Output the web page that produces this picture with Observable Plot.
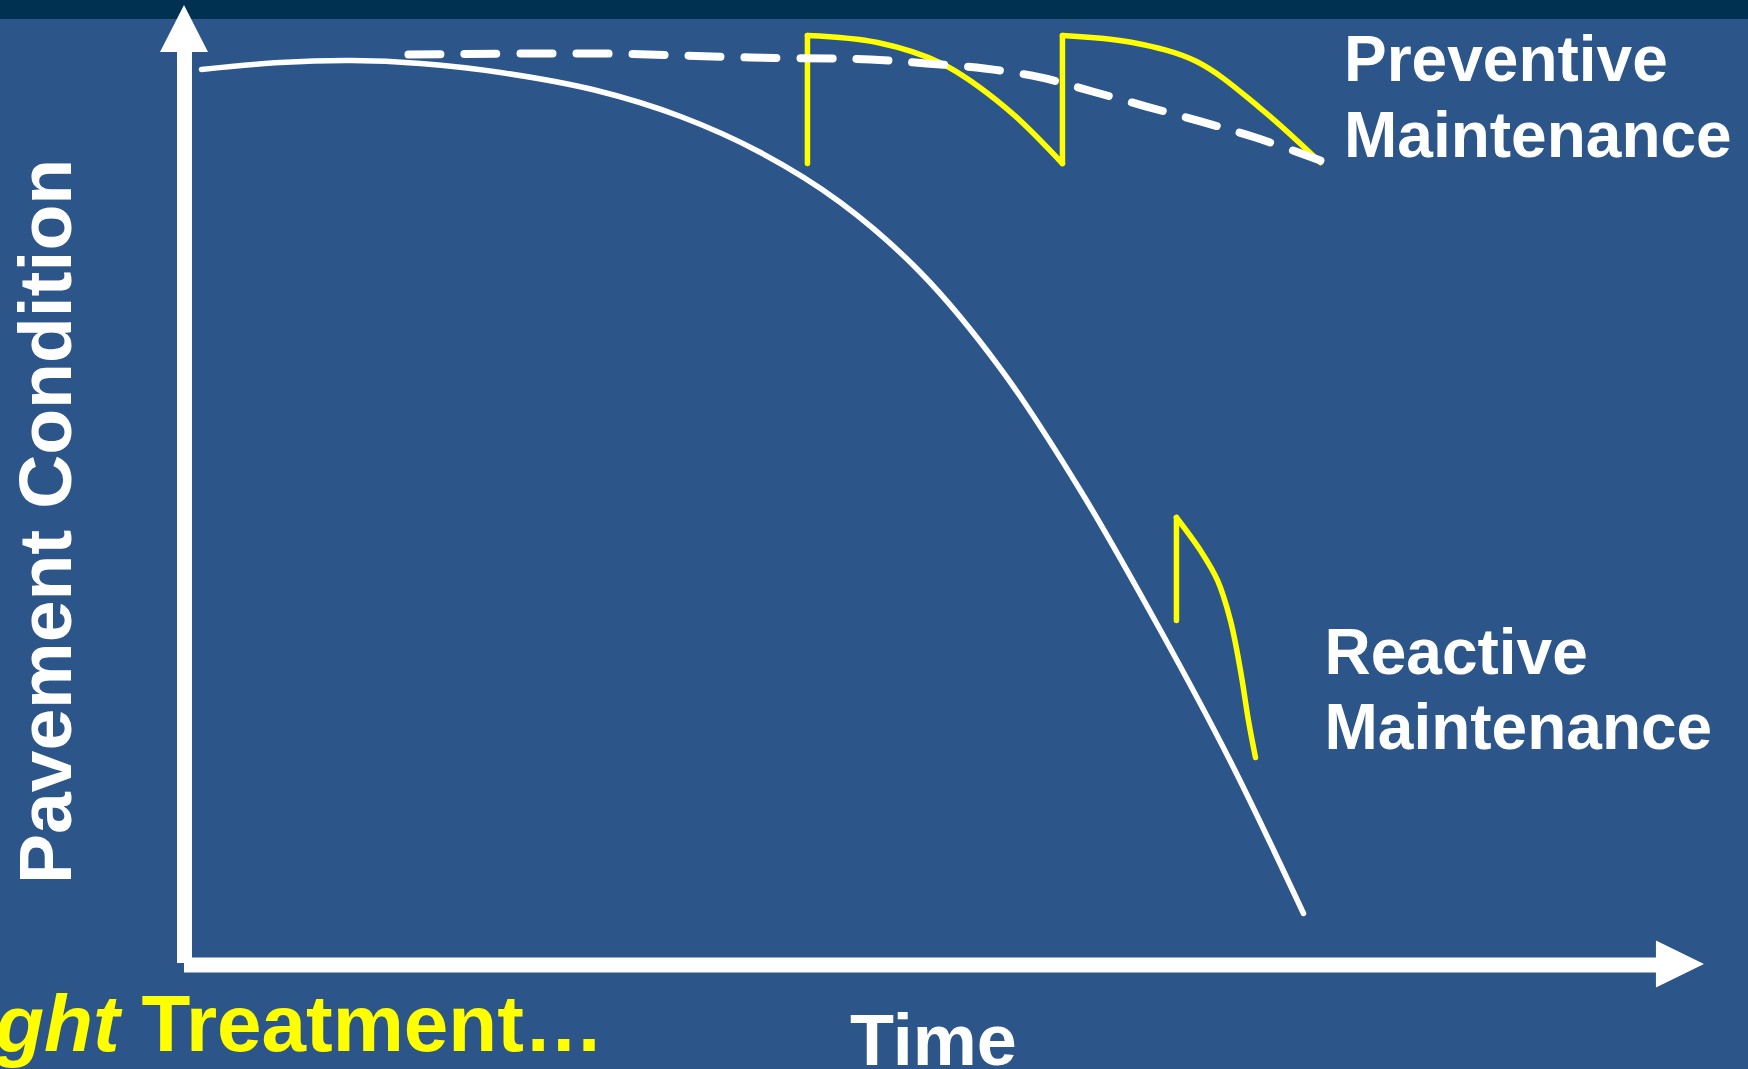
<!DOCTYPE html>
<html>
<head>
<meta charset="utf-8">
<script src="https://cdn.jsdelivr.net/npm/d3@7"></script>
<script src="https://cdn.jsdelivr.net/npm/@observablehq/plot@0.6"></script>
<style>
  html, body { margin: 0; padding: 0; background: #2C5589; width: 1748px; height: 1069px; overflow: hidden; }
  #chart svg { display: block; }
</style>
</head>
<body>
<div id="chart"></div>
<script>
// Time (0–100) vs Pavement Condition (0–100)

// Pavement left to deteriorate (white curve)
const decayTime = [1.13, 6.4, 11.13, 15.73, 21.07, 27.47, 33.07, 38.4, 43.73, 49.07, 54.4, 59.73, 65.07, 69.73, 74.6];
const decayCond = [99.44, 100.22, 100.44, 100.11, 99.11, 97.11, 94.22, 90.22, 84.67, 76.89, 66.22, 52.67, 37.11, 22.56, 5.67];

// Trend of condition under preventive maintenance (dashed)
const trendTime = [14.93, 27.73, 37.73, 45.73, 49.47, 53.33, 57.07, 60.53, 64.13, 67.73, 71.4, 75.73];
const trendCond = [101.11, 101.22, 100.78, 100.56, 100.11, 99.56, 98.56, 97.0, 95.33, 93.67, 91.89, 89.33];

// Preventive maintenance saw-tooth (yellow): segment ids split jumps from decays
const pmSeg  = ["jump1", "jump1", "decay1", "decay1", "decay1", "decay1", "decay1", "jump2", "jump2", "decay2", "decay2", "decay2", "decay2", "decay2"];
const pmTime = [41.53, 41.53, 41.53, 46.2, 50.47, 54.73, 58.53, 58.53, 58.53, 58.53, 63.2, 67.47, 71.67, 75.73];
const pmCond = [89.0, 103.22, 103.22, 102.44, 100.11, 95.22, 89.0, 89.0, 103.22, 103.22, 102.44, 100.33, 95.22, 89.11];

// Reactive maintenance (yellow): one late jump then decay
const rmSeg  = ["jump", "jump", "decay", "decay", "decay", "decay", "decay", "decay", "decay"];
const rmTime = [66.13, 66.13, 66.13, 67.73, 68.87, 69.73, 70.4, 70.93, 71.4];
const rmCond = [38.22, 49.67, 49.67, 46.0, 42.67, 38.22, 32.67, 27.11, 23.0];

// Labels
const yLabel = "Pavement Condition";
const xLabel = "Time";
const pmLabel = "Preventive\nMaintenance";
const rmLabel = "Reactive\nMaintenance";
const footItalic = "Right";
const footRest = "Treatment…";

const decay = decayTime.map((t, i) => ({t, c: decayCond[i]}));
const trend = trendTime.map((t, i) => ({t, c: trendCond[i]}));
const pm = pmTime.map((t, i) => ({t, c: pmCond[i], s: pmSeg[i]}));
const rm = rmTime.map((t, i) => ({t, c: rmCond[i], s: rmSeg[i]}));

const FONT = "'Liberation Sans', Arial, Helvetica, sans-serif";
const WHITE = "#ffffff";
const YELLOW = "#ffff00";

const chart = Plot.plot({
  width: 1748,
  height: 1069,
  margin: 0,
  x: {domain: [0, 100], range: [184, 1684], axis: null},
  y: {domain: [0, 100], range: [964, 64], axis: null},
  style: {
    background: "linear-gradient(to bottom, #003150 0px, #003150 19px, #2E5990 19px, #2E5990 20px, #2C5589 20px)",
    fontFamily: FONT
  },
  marks: [
    // axes with arrow heads
    Plot.ruleX([0], {y1: 0.11, y2: 101.6, stroke: WHITE, strokeWidth: 15}),
    Plot.areaY([-1.6, 0, 1.6], {x: d => d, y1: 101.33, y2: d => (d === 0 ? 106.56 : 101.33), fill: WHITE}),
    Plot.ruleY([-0.05], {x1: 0, x2: 98.3, stroke: WHITE, strokeWidth: 15}),
    Plot.areaX([-2.61, 0, 2.61], {y: d => d, x1: 98.13, x2: d => (d === 0 ? 101.33 : 98.13), fill: WHITE}),

    // no-maintenance deterioration curve
    Plot.line(decay, {x: "t", y: "c", stroke: WHITE, strokeWidth: 5.5, curve: "catmull-rom"}),

    // maintenance curves
    Plot.line(pm, {x: "t", y: "c", z: "s", stroke: YELLOW, strokeWidth: 5.5, curve: "catmull-rom", strokeLinecap: "round", strokeLinejoin: "miter"}),
    Plot.line(rm, {x: "t", y: "c", z: "s", stroke: YELLOW, strokeWidth: 5.5, curve: "catmull-rom", strokeLinecap: "round", strokeLinejoin: "miter"}),

    // preventive trend, dashed
    Plot.line(trend, {x: "t", y: "c", stroke: WHITE, strokeWidth: 8, strokeDasharray: "32,24", curve: "catmull-rom"}),

    // labels
    Plot.text([pmLabel], {x: 77.3, y: 89.67, text: d => d, textAnchor: "start", lineAnchor: "bottom", lineHeight: 1.2, fontSize: 64, fontWeight: "bold", fill: WHITE}),
    Plot.text([rmLabel], {x: 76.0, y: 24.0, text: d => d, textAnchor: "start", lineAnchor: "bottom", lineHeight: 1.17, fontSize: 64, fontWeight: "bold", fill: WHITE}),
    Plot.text([yLabel], {x: -7.6, y: 49.22, text: d => d, rotate: -90, textAnchor: "middle", lineAnchor: "bottom", fontSize: 75, fontWeight: "bold", fill: WHITE}),
    Plot.text([xLabel], {x: 49.93, y: -11.2, text: d => d, textAnchor: "middle", lineAnchor: "bottom", fontSize: 72, fontWeight: "bold", fill: WHITE}),
    Plot.text([footItalic], {x: -4.33, y: -9.56, text: d => d, textAnchor: "end", lineAnchor: "bottom", fontSize: 80, fontWeight: "bold", fontStyle: "italic", fill: YELLOW}),
    Plot.text([footRest], {x: -2.87, y: -9.56, text: d => d, textAnchor: "start", lineAnchor: "bottom", fontSize: 80, fontWeight: "bold", fill: YELLOW})
  ]
});
document.getElementById("chart").appendChild(chart);
</script>
</body>
</html>
